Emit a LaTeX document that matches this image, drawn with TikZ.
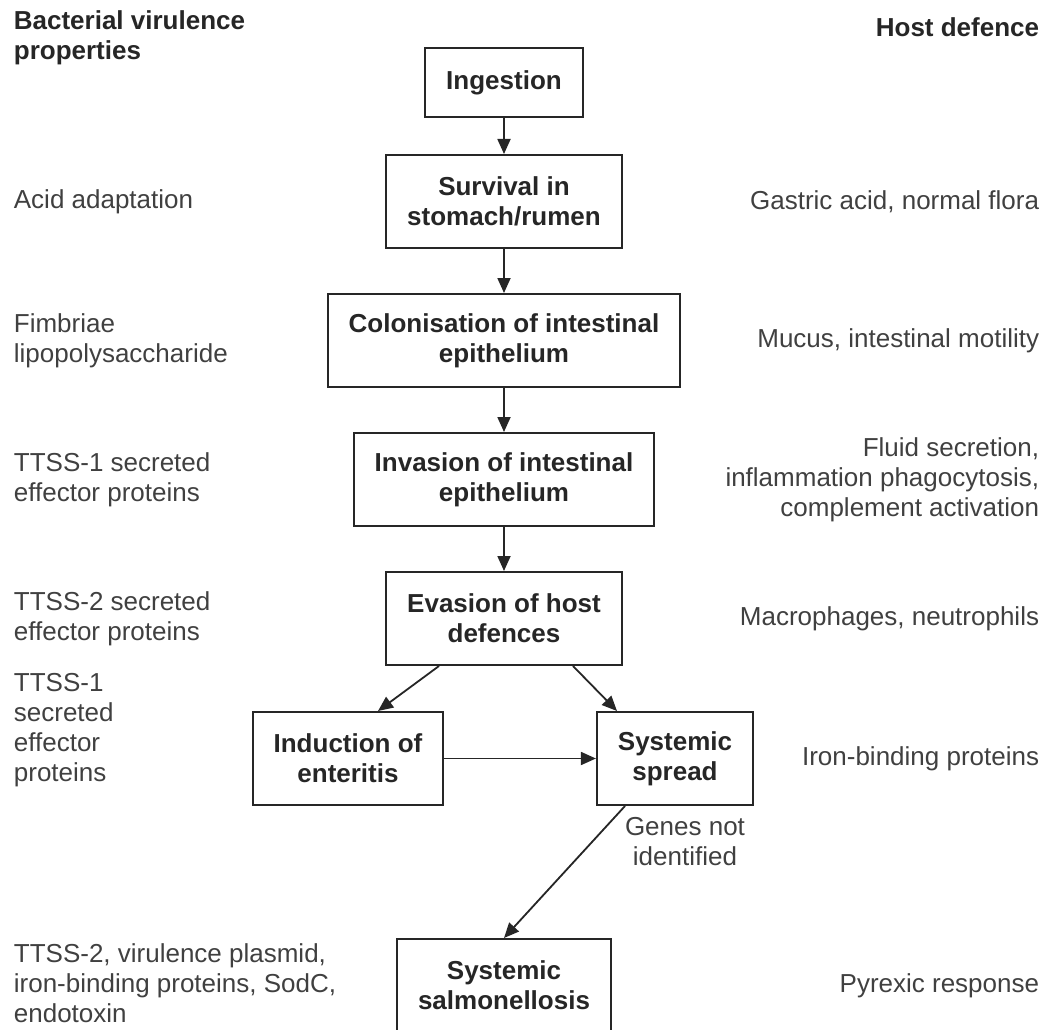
\documentclass[tikz,border=0pt]{standalone}
\usepackage{fontspec}
\setmainfont{Liberation Sans}
\usetikzlibrary{arrows.meta}

\definecolor{ink}{gray}{0.15}
\definecolor{grey}{gray}{0.25}

\tikzstyle{box} = [rectangle, draw=ink, line width=2pt, inner xsep=21pt, inner ysep=0pt, minimum height=93pt, align=center, text=ink, font=\fontsize{26}{30}\selectfont\bfseries]
\tikzstyle{lbl} = [inner sep=0pt, align=left, text=grey, font=\fontsize{26}{30}\selectfont]
\tikzstyle{lbr} = [inner sep=0pt, align=right, text=grey, font=\fontsize{26}{30}\selectfont]
\tikzstyle{hdg} = [inner sep=0pt, text=ink, font=\fontsize{26}{30}\selectfont\bfseries]

\begin{document}
\begin{tikzpicture}[->, >={Triangle[length=15pt,width=13pt]}, x=1pt, y=1pt, line width=1.8pt, draw=ink, node distance=139pt]

    \useasboundingbox (0,0) rectangle (1045,-1030);
    \clip (0,0) rectangle (1045,-1030);

    % pathway
    \node[box, minimum height=69pt] (ING) at (504,-82.5) {Ingestion};
    \node[box] (SUR) [below of=ING, node distance=119pt] {Survival in\\stomach/rumen};
    \node[box] (COL) [below of=SUR] {Colonisation of intestinal\\epithelium};
    \node[box] (INV) [below of=COL] {Invasion of intestinal\\epithelium};
    \node[box] (EVA) [below of=INV] {Evasion of host\\defences};
    \node[box] (IND) [below of=EVA, node distance=140pt, xshift=-156pt] {Induction of\\enteritis};
    \node[box] (SPR) [right of=IND, node distance=327pt] {Systemic\\spread};
    \node[box] (SAL) [below of=EVA, node distance=367pt] {Systemic\\salmonellosis};
    \node[lbl, align=center] (GEN) at (685,-842) {Genes not\\identified};

    % bacterial side
    \node[hdg, align=left, anchor=west] (hB) at (13,-38) {Bacterial virulence\\properties};
    \node[lbl, anchor=west] (bSUR) at (13,0 |- SUR) {Acid adaptation};
    \node[lbl, anchor=west] (bCOL) at (13,0 |- COL) {Fimbriae\\lipopolysaccharide};
    \node[lbl, anchor=west] (bINV) at (13,0 |- INV) {TTSS-1 secreted\\effector proteins};
    \node[lbl, anchor=west] (bEVA) at (13,0 |- EVA) {TTSS-2 secreted\\effector proteins};
    \node[lbl, anchor=west] (bIND) at (13,-730) {TTSS-1\\secreted\\effector\\proteins};
    \node[lbl, anchor=west] (bSAL) at (13,-983) {TTSS-2, virulence plasmid,\\iron-binding proteins, SodC,\\endotoxin};

    % host side
    \node[hdg, anchor=east] (hH) at (1040,-27) {Host defence};
    \node[lbr, anchor=east] (hSUR) at (1040,0 |- SUR) {Gastric acid, normal flora};
    \node[lbr, anchor=east] (hCOL) at (1040,0 |- COL) {Mucus, intestinal motility};
    \node[lbr, anchor=east] (hINV) at (1040,0 |- INV) {Fluid secretion,\\inflammation phagocytosis,\\complement activation};
    \node[lbr, anchor=east] (hEVA) at (1040,0 |- EVA) {Macrophages, neutrophils};
    \node[lbr, anchor=east] (hSPR) at (1040,0 |- SPR) {Iron-binding proteins};
    \node[lbr, anchor=east] (hSAL) at (1040,0 |- SAL) {Pyrexic response};

    \path
    (ING) edge (SUR)
    (SUR) edge (COL)
    (COL) edge (INV)
    (INV) edge (EVA)
    (IND) edge (SPR);

    \draw ([xshift=-65pt]EVA.south) -- ([xshift=30pt]IND.north);
    \draw ([xshift=69pt]EVA.south) -- ([xshift=-58pt]SPR.north);
    \draw ([xshift=-50pt]SPR.south) -- (SAL.north);

\end{tikzpicture}
\end{document}
